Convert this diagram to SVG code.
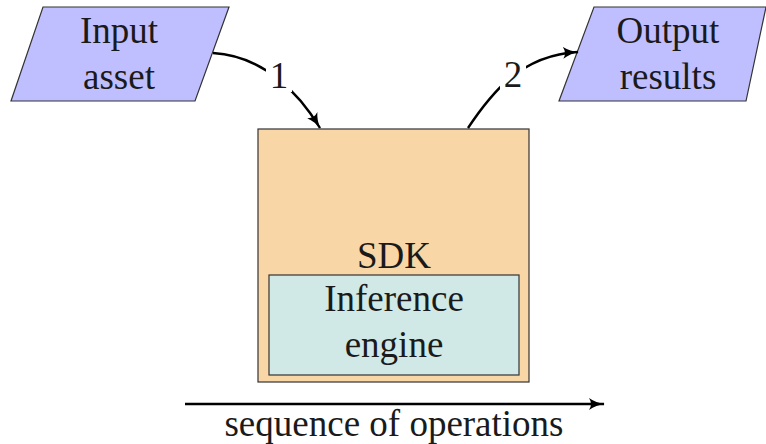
<svg xmlns="http://www.w3.org/2000/svg" width="766" height="444" viewBox="0 0 766 444">
<defs>
<marker id="ah" viewBox="0 0 16 12" refX="15" refY="6" markerWidth="16" markerHeight="12" markerUnits="userSpaceOnUse" orient="auto">
<path d="M0,0 Q7,5 16,6 Q7,7 0,12 Q4,6 0,0 Z" fill="#000"/>
</marker>
</defs>
<rect width="766" height="444" fill="#fff"/>
<g id="input">
<polygon points="43,7 229,7 195,101 11,101" fill="#bfbfff" stroke="#333" stroke-width="1.2"/>
<text x="119" y="43" font-family="Liberation Serif, serif" font-size="37" text-anchor="middle" fill="#1a1a1a">Input</text>
<text x="119" y="89" font-family="Liberation Serif, serif" font-size="37" text-anchor="middle" fill="#1a1a1a">asset</text>
</g>
<g id="output">
<polygon points="594,7 766,7 746,101 559,101" fill="#bfbfff" stroke="#333" stroke-width="1.2"/>
<text x="668" y="43" font-family="Liberation Serif, serif" font-size="37" text-anchor="middle" fill="#1a1a1a">Output</text>
<text x="668" y="89" font-family="Liberation Serif, serif" font-size="37" text-anchor="middle" fill="#1a1a1a">results</text>
</g>
<g id="sdk">
<rect x="258" y="129" width="271" height="253" fill="#f9d6a5" stroke="#333" stroke-width="1.2"/>
<text x="394" y="268" font-family="Liberation Serif, serif" font-size="37" text-anchor="middle" fill="#1a1a1a">SDK</text>
</g>
<g id="engine">
<rect x="269" y="275" width="250" height="100" fill="#d0e8e6" stroke="#333" stroke-width="1.2"/>
<text x="394" y="311" font-family="Liberation Serif, serif" font-size="37" text-anchor="middle" fill="#1a1a1a">Inference</text>
<text x="394" y="357" font-family="Liberation Serif, serif" font-size="37" text-anchor="middle" fill="#1a1a1a">engine</text>
</g>
<g id="connectors">
<path d="M213,53 C265,56 300,95 320,128" fill="none" stroke="#000" stroke-width="2.4" marker-end="url(#ah)"/>
<rect x="266" y="62" width="26" height="30" fill="#fff"/>
<text x="279" y="88" font-family="Liberation Serif, serif" font-size="37" text-anchor="middle" fill="#1a1a1a">1</text>
<path d="M468,128 C490,95 520,55 578,52" fill="none" stroke="#000" stroke-width="2.4" marker-end="url(#ah)"/>
<rect x="500" y="60" width="26" height="30" fill="#fff"/>
<text x="513" y="87" font-family="Liberation Serif, serif" font-size="37" text-anchor="middle" fill="#1a1a1a">2</text>
<path d="M185,404 L604,404" fill="none" stroke="#000" stroke-width="2.4" marker-end="url(#ah)"/>
<text x="394" y="436" font-family="Liberation Serif, serif" font-size="37" text-anchor="middle" fill="#1a1a1a">sequence of operations</text>
</g>
</svg>
